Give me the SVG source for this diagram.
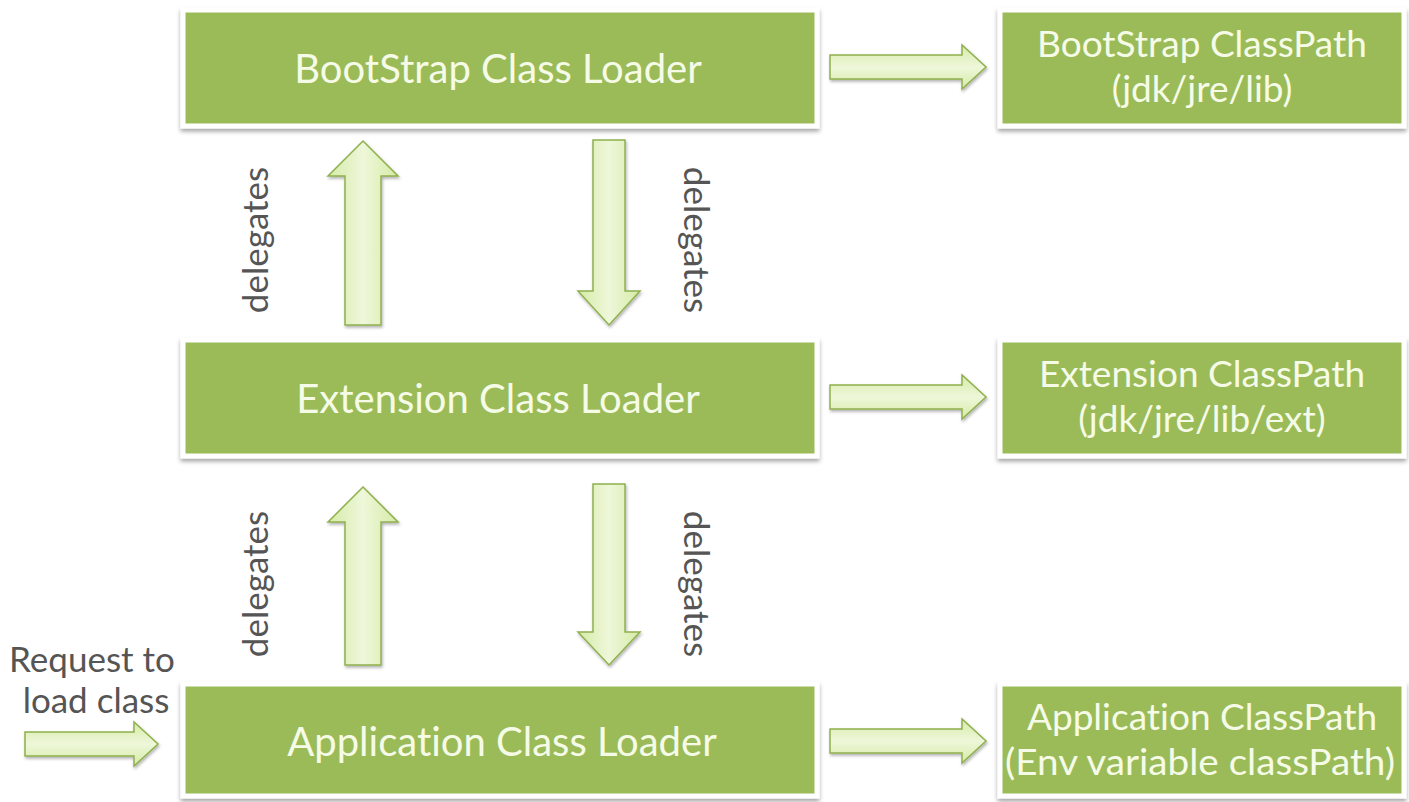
<svg xmlns="http://www.w3.org/2000/svg" width="1409" height="802" viewBox="0 0 1409 802">
<defs>
<style>
text{font-variant-ligatures:none}
.box{fill:#9BBB59;stroke:#ffffff;stroke-width:5;filter:url(#sh)}
.bt{font-family:Lato,"Open Sans",sans-serif;fill:#F6FBE8;text-anchor:middle}
.arr{fill:url(#gv);stroke:#8FB04E;stroke-width:1.5;filter:url(#ash)}
.arrh{fill:url(#gh);stroke:#8FB04E;stroke-width:1.5;filter:url(#ash)}
.lab{font-family:Lato,"Open Sans",sans-serif;fill:#555;font-size:35px;text-anchor:middle}
</style>
<filter id="sh" x="-5%" y="-10%" width="110%" height="125%">
<feDropShadow dx="0" dy="3" stdDeviation="2" flood-color="#000" flood-opacity="0.35"/>
</filter>
<filter id="ash" x="-20%" y="-20%" width="140%" height="140%">
<feDropShadow dx="1" dy="2" stdDeviation="1.5" flood-color="#000" flood-opacity="0.3"/>
</filter>
<linearGradient id="gv" x1="0" y1="0" x2="1" y2="0">
<stop offset="0" stop-color="#D6EBA6"/><stop offset="0.5" stop-color="#EEF7DA"/><stop offset="1" stop-color="#D6EBA6"/>
</linearGradient>
<linearGradient id="gh" x1="0" y1="0" x2="0" y2="1">
<stop offset="0" stop-color="#D6EBA6"/><stop offset="0.5" stop-color="#EEF7DA"/><stop offset="1" stop-color="#D6EBA6"/>
</linearGradient>
</defs>
<rect width="1409" height="802" fill="#ffffff"/>

<g id="bootstrap">
<rect class="box" x="183" y="10" width="634" height="116"/>
<text class="bt" x="498" y="83" font-size="40">BootStrap Class Loader</text>
</g>
<g id="extension">
<rect class="box" x="183" y="340" width="634" height="116"/>
<text class="bt" x="498" y="413" font-size="40">Extension Class Loader</text>
</g>
<g id="application">
<rect class="box" x="183" y="684" width="634" height="112"/>
<text class="bt" x="502" y="756" font-size="40">Application Class Loader</text>
</g>
<g id="bootstrap-cp">
<rect class="box" x="1000" y="10" width="404" height="116"/>
<text class="bt" x="1202" y="57" font-size="37">BootStrap ClassPath</text>
<text class="bt" x="1202" y="102" font-size="37">(jdk/jre/lib)</text>
</g>
<g id="extension-cp">
<rect class="box" x="1000" y="340" width="404" height="116"/>
<text class="bt" x="1202" y="387" font-size="37">Extension ClassPath</text>
<text class="bt" x="1202" y="432" font-size="37">(jdk/jre/lib/ext)</text>
</g>
<g id="application-cp">
<rect class="box" x="1000" y="684" width="404" height="112"/>
<text class="bt" x="1202" y="730" font-size="37">Application ClassPath</text>
<text class="bt" x="1200" y="775" font-size="37" textLength="390" lengthAdjust="spacingAndGlyphs">(Env variable classPath)</text>
</g>
<g id="request">
<text class="lab" x="92" y="672" font-size="37">Request to</text>
<text class="lab" x="96" y="713" font-size="37">load class</text>
</g>

<g id="connectors">
<path class="arrh" d="M830 55 H962 V45 L986 67 L962 89 V79 H830 Z"/>
<path class="arrh" d="M830 385 H962 V375 L986 397 L962 419 V409 H830 Z"/>
<path class="arrh" d="M830 729 H962 V719 L986 741 L962 763 V753 H830 Z"/>
<path class="arrh" d="M25 732 H134 V722 L158 744 L134 766 V756 H25 Z"/>
<path class="arr" d="M345 325 V176 H328 L363 141 L398 176 H381 V325 Z"/>
<path class="arr" d="M345 665 V522 H328 L363 487 L398 522 H381 V665 Z"/>
<path class="arr" d="M593 140 V291 H578 L609 325 L640 291 H625 V140 Z"/>
<path class="arr" d="M593 484 V632 H578 L609 665 L640 632 H625 V484 Z"/>
<text class="lab" transform="translate(256 240) rotate(-90)" dy="12">delegates</text>
<text class="lab" transform="translate(256 584) rotate(-90)" dy="12">delegates</text>
<text class="lab" transform="translate(696 240) rotate(90)" dy="12">delegates</text>
<text class="lab" transform="translate(696 584) rotate(90)" dy="12">delegates</text>
</g>
</svg>
